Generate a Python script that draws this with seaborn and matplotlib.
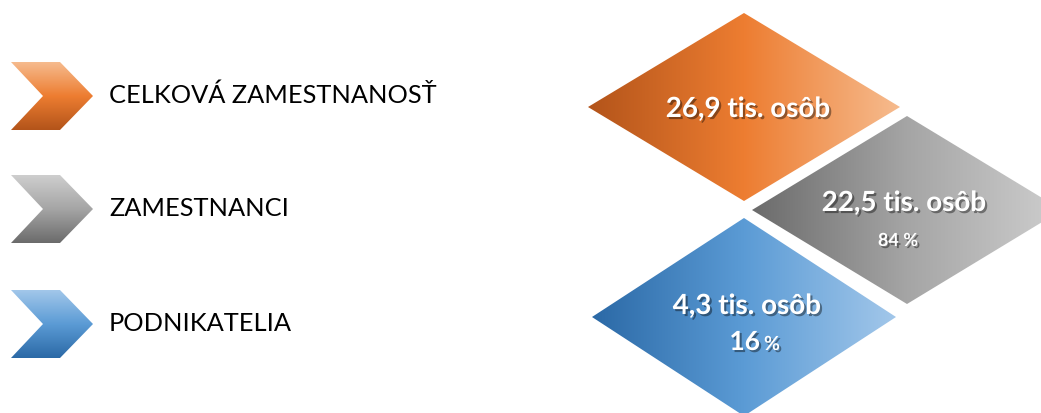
import numpy as np
import matplotlib
matplotlib.use("Agg")
import matplotlib.pyplot as plt
import matplotlib.patheffects as pe
from matplotlib.patches import Polygon
import seaborn as sns

# data
categories = ["CELKOVÁ ZAMESTNANOSŤ", "ZAMESTNANCI", "PODNIKATELIA"]
values_tis = [26.9, 22.5, 4.3]
shares_pct = [None, 84, 16]
unit_label = "tis. osôb"

# gradient colours per category: dark -> mid -> light
gradients = [
    ["#b3541a", "#ed7d31", "#f6bb8e"],
    ["#6b6b6b", "#a5a5a5", "#cecece"],
    ["#2b69a6", "#5b9bd5", "#a2c7ea"],
]

# layout in pixels (figure is 1041 x 414)
chevron_y = [97, 210, 325]
diamond_centres = [(744, 108), (907, 211), (744, 318)]
diamond_half = [(156, 94), (155, 94), (152, 99)]

sns.set_theme(style="white")
plt.rcParams["font.family"] = ["Lato", "DejaVu Sans"]

fig = plt.figure(figsize=(10.41, 4.14), dpi=100)
ax = fig.add_axes([0, 0, 1, 1])
ax.set_xlim(0, 1041)
ax.set_ylim(414, 0)
ax.axis("off")


def gradient_fill(ax, verts, colours, vertical=False):
    cmap = sns.blend_palette(colours, as_cmap=True)
    xs = [v[0] for v in verts]
    ys = [v[1] for v in verts]
    grad = np.linspace(0, 1, 256)
    if vertical:
        # light on top, dark at the bottom
        img = 1 - grad.reshape(-1, 1)
    else:
        img = grad.reshape(1, -1)
    poly = Polygon(verts, closed=True, facecolor="none", edgecolor="none")
    ax.add_patch(poly)
    im = ax.imshow(img, cmap=cmap, aspect="auto", interpolation="bilinear",
                   extent=[min(xs), max(xs), max(ys), min(ys)], vmin=0, vmax=1)
    im.set_clip_path(poly)


shadow = [pe.withSimplePatchShadow(offset=(1.5, -1.5), shadow_rgbFace="black", alpha=0.4)]

# legend chevrons with labels
for label, cy, cols in zip(categories, chevron_y, gradients):
    verts = [(11, cy - 34), (60, cy - 34), (93, cy), (60, cy + 34), (11, cy + 34), (43, cy)]
    gradient_fill(ax, verts, cols, vertical=True)
    ax.text(109, cy + 6, label, fontsize=18.3, color="black", va="baseline", ha="left")

# diamonds with values
for i, ((cx, cy), (hw, hh), cols) in enumerate(zip(diamond_centres, diamond_half, gradients)):
    verts = [(cx - hw, cy), (cx, cy - hh), (cx + hw, cy), (cx, cy + hh)]
    gradient_fill(ax, verts, cols)
    val = f"{values_tis[i]:.1f}".replace(".", ",") + " " + unit_label
    if shares_pct[i] is None:
        ax.text(cx + 4, cy + 10, val, fontsize=20, fontweight="bold", color="white",
                ha="center", va="baseline", path_effects=shadow)
    elif i == 1:
        ax.text(cx - 3, cy + 1, val, fontsize=20, fontweight="bold", color="white",
                ha="center", va="baseline", path_effects=shadow)
        ax.text(cx - 9, cy + 36, f"{shares_pct[i]} %", fontsize=13, fontweight="bold",
                color="white", ha="center", va="baseline", path_effects=shadow)
    else:
        ax.text(cx + 3, cy - 3, val, fontsize=20, fontweight="bold", color="white",
                ha="center", va="baseline", path_effects=shadow)
        # number larger, percent sign smaller
        ax.text(cx + 16, cy + 33, f"{shares_pct[i]}", fontsize=19, fontweight="bold",
                color="white", ha="right", va="baseline", path_effects=shadow)
        ax.text(cx + 20, cy + 33, "%", fontsize=14, fontweight="bold",
                color="white", ha="left", va="baseline", path_effects=shadow)

fig.savefig("out.png", dpi=100)
